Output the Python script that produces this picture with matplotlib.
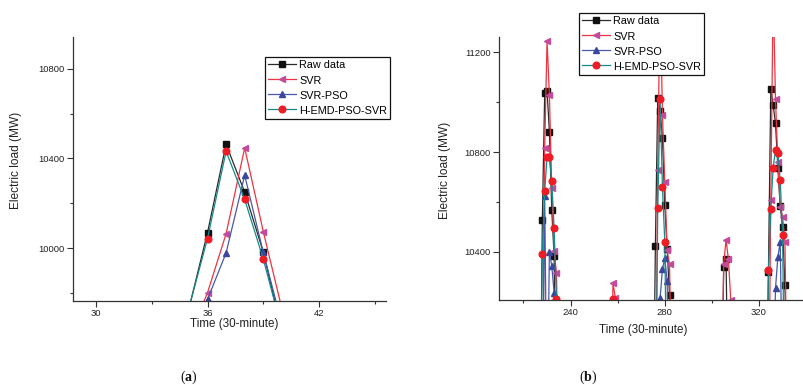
import numpy as np
import matplotlib
matplotlib.use("Agg")
import matplotlib.pyplot as plt
from matplotlib.ticker import MultipleLocator

plt.rcParams['font.family'] = ['Liberation Sans', 'DejaVu Sans']
plt.rcParams['mathtext.fontset'] = 'custom'
plt.rcParams['mathtext.rm'] = 'Liberation Serif'
plt.rcParams['mathtext.bf'] = 'Liberation Serif:bold'

nan = np.nan

# ---------------- Panel (a) data ----------------
time_a = [35, 36, 37, 38, 39, 40]
raw_a = [9732, 10070, 10463, 10250, 9984, 9632]
svr_a = [9600, 9803, 10065, 10447, 10075, 9732]
pso_a = [9600, 9773, 9980, 10325, 9982, 9664]
hemd_a = [9735, 10044, 10432, 10218, 9953, 9640]

# ---------------- Panel (b) data (nan = gap between visible peaks) ----------------
raw_b_t = [227, 228, 229, 230, 231, 232, 233, 234, nan,
           275, 276, 277, 278, 279, 280, 281, 282, 283, nan,
           304, 305, 306, 307, nan,
           323, 324, 325, 326, 327, 328, 329, 330, 331, 332]
raw_b = [9600, 10527, 11036, 11047, 10881, 10568, 10383, 9700, nan,
         9600, 10424, 11018, 10966, 10858, 10586, 10409, 10225, 9800, nan,
         9700, 10337, 10371, 9700, nan,
         9600, 10320, 11052, 10989, 10915, 10737, 10583, 10500, 10266, 9800]

svr_b_t = [228, 229, 230, 231, 232, 233, 234, 235, nan,
           257, 258, 259, 260, nan,
           276, 277, 278, 279, 280, 281, 282, 283, nan,
           304, 305, 306, 307, 308, 309, nan,
           324, 325, 326, 327, 328, 329, 330, 331, 332]
svr_b = [9600, 10815, 11247, 11028, 10657, 10404, 10313, 9800, nan,
         9800, 10273, 10216, 9900, nan,
         9600, 10728, 11450, 10949, 10678, 10405, 10349, 9800, nan,
         9700, 10349, 10448, 10370, 10208, 9900, nan,
         9600, 10609, 11450, 11012, 10761, 10581, 10541, 10437, 9800]

pso_b_t = [228, 229, 230, 231, 232, 233, 234, nan,
           277, 278, 279, 280, 281, 282, nan,
           326, 327, 328, 329, 330]
pso_b = [9700, 10625, 9700, 10400, 10343, 10236, 9800, nan,
         9700, 10213, 10330, 10373, 10282, 9800, nan,
         9800, 10253, 10378, 10440, 9800]

hemd_b_t = [227, 228, 229, 230, 231, 232, 233, 234, 235, nan,
            257, 258, 259, nan,
            276, 277, 278, 279, 280, 281, nan,
            323, 324, 325, 326, 327, 328, 329, 330, 331]
hemd_b = [9600, 10391, 10645, 10779, 10779, 10682, 10494, 10209, 9800, nan,
          9900, 10211, 9900, nan,
          9600, 10574, 11013, 10658, 10437, 9700, nan,
          9600, 10326, 10570, 10737, 10808, 10795, 10688, 10467, 9700]

labels = ['Raw data', 'SVR', 'SVR-PSO', 'H-EMD-PSO-SVR']

styles = [
    dict(color='#2b2b2b', marker='s', mfc='#111111', mec='#111111', ms=4.3),
    dict(color='#ee3340', marker='<', mfc='#c44a9c', mec='#c44a9c', ms=5.0),
    dict(color='#4a58a8', marker='^', mfc='#3b479c', mec='#3b479c', ms=4.8),
    dict(color='#138b8b', marker='o', mfc='#ee1c24', mec='#ee1c24', ms=4.8),
]

W, H = 804, 385
fig = plt.figure(figsize=(W / 100, H / 100), dpi=100)


def fax(l, r, t, b):
    return fig.add_axes([l / W, 1 - b / H, (r - l) / W, (b - t) / H])


def style_axes(ax):
    for s in ['top', 'right']:
        ax.spines[s].set_visible(False)
    for s in ['left', 'bottom']:
        ax.spines[s].set_color('#333333')
        ax.spines[s].set_linewidth(0.9)
    ax.tick_params(which='major', direction='out', length=4, width=0.8,
                   color='#333333', labelsize=6.8, labelcolor='#222222', pad=2)
    ax.tick_params(which='minor', direction='out', length=2.5, width=0.8,
                   color='#333333')


def make_legend(ax, x, y):
    leg = ax.legend(loc='upper left', bbox_to_anchor=(x / W, 1 - y / H),
                    bbox_transform=fig.transFigure, fontsize=7.8, frameon=True,
                    fancybox=False, framealpha=1, edgecolor='#111111',
                    handlelength=2.6, handleheight=1.1, handletextpad=0.3,
                    labelspacing=0.4, borderpad=0.25, borderaxespad=0,
                    numpoints=1)
    leg.get_frame().set_linewidth(0.9)
    return leg


# ---------- Panel (a) ----------
axa = fax(72.7, 386, 37.3, 301)
series_a = [raw_a, svr_a, pso_a, hemd_a]
for y, st, lab in zip(series_a, styles, labels):
    axa.plot(time_a, y, lw=0.9, label=lab, **st)
axa.set_xlim(28.75, 45.6)
axa.set_ylim(9766, 10939)
axa.xaxis.set_major_locator(MultipleLocator(6))
axa.xaxis.set_minor_locator(MultipleLocator(3))
axa.yaxis.set_major_locator(MultipleLocator(400))
axa.yaxis.set_minor_locator(MultipleLocator(200))
style_axes(axa)
axa.set_xlabel('Time (30-minute)', fontsize=8.4, color='#222222')
axa.set_ylabel('Electric load (MW)', fontsize=8.6, color='#222222')
axa.xaxis.set_label_coords(0.515, -0.066)
axa.yaxis.set_label_coords(-0.163, 0.532)
make_legend(axa, 265, 56.7)

# ---------- Panel (b) ----------
axb = fax(499, 804, 36.7, 300)
series_b = [(raw_b_t, raw_b), (svr_b_t, svr_b), (pso_b_t, pso_b), (hemd_b_t, hemd_b)]
for (t, y), st, lab in zip(series_b, styles, labels):
    axb.plot(t, y, lw=0.9, label=lab, **st)
axb.set_xlim(209.6, 339.1)
axb.set_ylim(10206, 11263)
axb.xaxis.set_major_locator(MultipleLocator(40))
axb.xaxis.set_minor_locator(MultipleLocator(20))
axb.yaxis.set_major_locator(MultipleLocator(400))
axb.yaxis.set_minor_locator(MultipleLocator(200))
style_axes(axb)
axb.set_xlabel('Time (30-minute)', fontsize=8.4, color='#222222')
axb.set_ylabel('Electric load (MW)', fontsize=8.6, color='#222222')
axb.xaxis.set_label_coords(0.472, -0.093)
axb.yaxis.set_label_coords(-0.157, 0.494)
make_legend(axb, 579, 12.7)

# captions
fig.text(189 / W, 1 - 377 / H, r'($\mathbf{a}$)', ha='center', va='center',
         fontsize=10, family='Liberation Serif', color='#111111')
fig.text(588 / W, 1 - 377 / H, r'($\mathbf{b}$)', ha='center', va='center',
         fontsize=10, family='Liberation Serif', color='#111111')

fig.savefig('out.png', dpi=100)
